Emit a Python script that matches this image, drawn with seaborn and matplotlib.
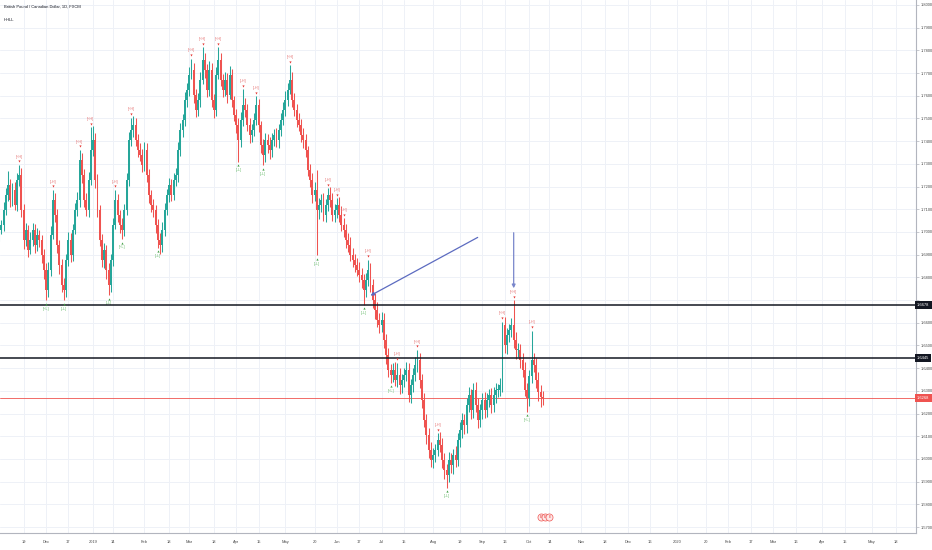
import numpy as np
import pandas as pd
import seaborn as sns
import matplotlib.pyplot as plt
import matplotlib.transforms as mtransforms

# GBPCAD daily (first bar = 2018-11-01)
start_day = "2018-11-01"
first_open = 1.6960
closes = [
    1.6987, 1.7009, 1.7031, 1.7097, 1.7163, 1.7207, 1.7141, 1.7185, 1.7119, 1.7229,
    1.7251, 1.7097, 1.6965, 1.7009, 1.6921, 1.6965, 1.7009, 1.6943, 1.6987, 1.6965,
    1.6899, 1.6833, 1.6744, 1.6833, 1.6987, 1.7141, 1.7075, 1.6943, 1.6855, 1.6767,
    1.6744, 1.6877, 1.6965, 1.6899, 1.7009, 1.7097, 1.7141, 1.7317, 1.7251, 1.7141,
    1.7097, 1.7229, 1.7361, 1.7405, 1.7229, 1.7097, 1.6965, 1.6877, 1.6921, 1.6833,
    1.6767, 1.6877, 1.7031, 1.7141, 1.7075, 1.7031, 1.7009, 1.7097, 1.7229, 1.7405,
    1.7449, 1.7471, 1.7405, 1.7361, 1.7339, 1.7295, 1.7361, 1.7251, 1.7163, 1.7119,
    1.7097, 1.7031, 1.6965, 1.6943, 1.7009, 1.7097, 1.7163, 1.7207, 1.7163, 1.7229,
    1.7251, 1.7361, 1.7449, 1.7493, 1.7581, 1.7626, 1.7692, 1.7714, 1.7604, 1.7537,
    1.7581, 1.7670, 1.7758, 1.7714, 1.7626, 1.7714, 1.7581, 1.7537, 1.7692, 1.7758,
    1.7670, 1.7626, 1.7670, 1.7604, 1.7692, 1.7581, 1.7515, 1.7471, 1.7405, 1.7493,
    1.7559, 1.7537, 1.7471, 1.7427, 1.7449, 1.7493, 1.7559, 1.7471, 1.7383, 1.7339,
    1.7405, 1.7383, 1.7361, 1.7405, 1.7427, 1.7405, 1.7449, 1.7493, 1.7537, 1.7581,
    1.7626, 1.7670, 1.7581, 1.7537, 1.7493, 1.7471, 1.7427, 1.7405, 1.7361, 1.7273,
    1.7229, 1.7163, 1.7185, 1.7097, 1.7119, 1.7141, 1.7075, 1.7119, 1.7163, 1.7141,
    1.7075, 1.7097, 1.7119, 1.7075, 1.7031, 1.7009, 1.6965, 1.6943, 1.6899, 1.6877,
    1.6855, 1.6833, 1.6811, 1.6789, 1.6744, 1.6789, 1.6833, 1.6767, 1.6700, 1.6656,
    1.6612, 1.6590, 1.6612, 1.6524, 1.6458, 1.6392, 1.6370, 1.6392, 1.6348, 1.6370,
    1.6326, 1.6348, 1.6370, 1.6392, 1.6282, 1.6326, 1.6370, 1.6414, 1.6436, 1.6348,
    1.6260, 1.6172, 1.6106, 1.6040, 1.5996, 1.6018, 1.6040, 1.6084, 1.6062, 1.5996,
    1.5951, 1.5929, 1.5996, 1.5973, 1.6018, 1.5996, 1.6084, 1.6128, 1.6172, 1.6150,
    1.6238, 1.6282, 1.6216, 1.6304, 1.6238, 1.6172, 1.6216, 1.6260, 1.6216, 1.6260,
    1.6282, 1.6238, 1.6282, 1.6304, 1.6304, 1.6326, 1.6590, 1.6502, 1.6546, 1.6568,
    1.6590, 1.6524, 1.6480, 1.6480, 1.6436, 1.6392, 1.6304, 1.6269, 1.6366, 1.6436,
    1.6414, 1.6348, 1.6295, 1.6273, 1.6268,
]
# wick lengths above / below the body, in pips
wick_up = [
    25, 30, 20, 35, 30, 60, 25, 30, 35, 30, 45, 30, 25, 30, 20, 35, 30, 25, 30, 20,
    20, 25, 30, 35, 40, 45, 30, 25, 20, 25, 30, 25, 35, 30, 25, 30, 35, 45, 30, 25,
    30, 35, 100, 60, 30, 25, 20, 25, 30, 20, 30, 25, 30, 45, 25, 20, 30, 25, 30, 35,
    55, 40, 30, 25, 30, 25, 35, 30, 25, 20, 25, 20, 25, 30, 35, 30, 25, 30, 25, 30,
    30, 35, 30, 25, 35, 30, 35, 50, 30, 25, 30, 35, 55, 30, 25, 40, 30, 25, 35, 55,
    30, 25, 35, 30, 40, 25, 20, 25, 30, 35, 70, 30, 25, 30, 25, 30, 40, 25, 20, 25,
    30, 25, 35, 30, 25, 30, 25, 30, 35, 40, 30, 65, 35, 30, 25, 30, 25, 30, 25, 20,
    25, 30, 35, 90, 30, 25, 30, 25, 30, 35, 30, 25, 30, 35, 40, 30, 25, 30, 35, 30,
    25, 30, 35, 30, 25, 30, 45, 30, 25, 30, 35, 30, 35, 30, 25, 30, 25, 30, 35, 55,
    30, 25, 30, 35, 30, 25, 30, 35, 45, 30, 25, 30, 25, 30, 35, 30, 25, 30, 35, 30,
    30, 25, 35, 30, 25, 40, 30, 35, 30, 25, 30, 35, 25, 30, 35, 30, 25, 30, 35, 30,
    25, 30, 35, 30, 25, 30, 15, 35, 30, 25, 30, 110, 35, 30, 25, 30, 35, 30, 25, 130,
    30, 30, 35, 30, 25,
]
wick_dn = [
    30, 25, 20, 25, 20, 25, 30, 25, 20, 25, 25, 30, 40, 25, 30, 20, 25, 35, 25, 30,
    35, 40, 45, 30, 25, 20, 30, 35, 40, 30, 45, 30, 25, 30, 25, 20, 25, 30, 35, 30,
    25, 30, 20, 25, 35, 30, 25, 30, 35, 40, 45, 30, 25, 20, 30, 35, 40, 25, 20, 25,
    25, 30, 25, 30, 25, 30, 25, 30, 35, 30, 30, 35, 35, 40, 30, 25, 20, 30, 25, 20,
    25, 30, 25, 30, 25, 30, 25, 20, 35, 30, 25, 30, 20, 35, 30, 25, 30, 35, 25, 20,
    25, 30, 25, 35, 20, 30, 25, 35, 95, 30, 25, 30, 25, 35, 30, 25, 20, 30, 35, 45,
    30, 35, 40, 30, 25, 30, 35, 25, 20, 25, 25, 20, 30, 25, 30, 25, 30, 35, 30, 25,
    30, 35, 25, 200, 40, 30, 25, 30, 25, 30, 25, 30, 35, 30, 25, 30, 35, 30, 25, 30,
    30, 25, 30, 35, 65, 30, 25, 30, 35, 40, 30, 35, 30, 35, 40, 30, 35, 30, 25, 30,
    40, 35, 30, 25, 30, 35, 30, 25, 30, 35, 35, 30, 40, 35, 30, 35, 30, 25, 30, 35,
    40, 55, 30, 35, 40, 30, 25, 30, 35, 40, 35, 30, 40, 35, 30, 35, 30, 40, 35, 30,
    30, 35, 30, 35, 30, 25, 30, 35, 40, 30, 30, 35, 40, 30, 35, 30, 25, 60, 35, 30,
    30, 35, 40, 45, 30,
]

# HHLL indicator pivots: (bar, tag)
pivot_highs = [(10, "HH"), (25, "LH"), (37, "HH"), (42, "HH"), (53, "LH"), (60, "HH"),
               (87, "HH"), (92, "HH"), (99, "HH"), (110, "LH"), (116, "LH"), (131, "HH"),
               (148, "LH"), (152, "LH"), (155, "LH"), (166, "LH"), (179, "LH"),
               (188, "HH"), (197, "LH"), (226, "HH"), (231, "HH"), (239, "LH")]
pivot_lows = [(22, "HL"), (30, "LL"), (50, "LL"), (56, "HL"), (72, "LL"), (108, "LL"),
              (119, "LL"), (143, "LL"), (164, "LL"), (176, "HL"), (201, "LL"), (237, "HL")]

levels = [1.6678, 1.6445]
trend_pts = [(165.9, 1.6714), (216.0, 1.6982)]
arrow_pts = [(231, 1.7009), (231, 1.6740)]
event_bars = [243, 245, 247]

tick_dates = ["2018-11-19", "2018-12-03", "2018-12-17", "2019-01-01", "2019-01-14",
              "2019-02-01", "2019-02-18", "2019-03-01", "2019-03-18", "2019-04-01",
              "2019-04-15", "2019-05-01", "2019-05-20", "2019-06-03", "2019-06-17",
              "2019-07-01", "2019-07-15", "2019-08-01", "2019-08-19", "2019-09-02",
              "2019-09-16", "2019-10-01", "2019-10-14", "2019-11-01", "2019-11-18",
              "2019-12-02", "2019-12-16", "2020-01-01", "2020-01-20", "2020-02-03",
              "2020-02-17", "2020-03-02", "2020-03-16", "2020-04-01", "2020-04-15",
              "2020-05-01", "2020-05-18"]
tick_text = ["19", "Dec", "17", "2019", "14", "Feb", "18", "Mar", "18", "Apr", "15",
             "May", "20", "Jun", "17", "Jul", "15", "Aug", "19", "Sep", "16", "Oct",
             "14", "Nov", "18", "Dec", "16", "2020", "20", "Feb", "17", "Mar", "16",
             "Apr", "15", "May", "18"]

UP, DOWN = "#26a69a", "#ef5350"
FS = 2.9

sns.set_theme(style="white")
plt.rcParams["font.family"] = ["Liberation Sans Narrow", "Liberation Sans", "DejaVu Sans"]

closes = np.array(closes)
opens = np.r_[first_open, closes[:-1]]
highs = np.maximum(opens, closes) + np.array(wick_up) / 10000
lows = np.minimum(opens, closes) - np.array(wick_dn) / 10000
n = len(closes)
x = np.arange(n)
cols = np.where(closes >= opens, UP, DOWN)

calendar = pd.bdate_range(start_day, "2020-06-30")
tick_pos = [calendar.get_loc(pd.Timestamp(d)) for d in tick_dates]

fig = plt.figure(figsize=(9.32, 5.5), dpi=100)
ax = fig.add_axes([0, 17 / 550, 916 / 932, 533 / 550])

ax.vlines(x, lows, highs, colors=cols, lw=0.75, zorder=3)
body = np.maximum(np.abs(closes - opens), 0.0003)
ax.bar(x, body, bottom=np.minimum(opens, closes), width=0.86, color=cols, lw=0, zorder=4)

ax.set_xlim(1.43, 410.8)
ax.set_ylim(1.5674, 1.8022)

yt = np.round(np.arange(1.57, 1.8001, 0.01), 2)
ax.set_yticks(yt)
ax.set_yticklabels(["" if abs(v - 1.67) < 0.001 else f"{v:.4f}" for v in yt])
ax.yaxis.tick_right()
ax.set_xticks(tick_pos)
ax.set_xticklabels(tick_text)
ax.grid(True, color="#eef1f7", lw=0.7)
ax.tick_params(axis="both", labelsize=FS, labelcolor="#4a4a4a", length=2, width=0.5,
               color="#b2b5be", pad=1.5)
ax.tick_params(axis="x", pad=3)
for s in ["top", "left"]:
    ax.spines[s].set_visible(False)
for s in ["right", "bottom"]:
    ax.spines[s].set_color("#b2b5be")
    ax.spines[s].set_linewidth(0.8)

# horizontal levels with tags on the price scale
tag_tr = mtransforms.blended_transform_factory(ax.transAxes, ax.transData)
for lv in levels:
    ax.axhline(lv, color="#131722", lw=1.1, zorder=5)
    ax.text(1.001, lv, f"{lv:.4f}", transform=tag_tr, fontsize=FS, color="white",
            va="center", ha="left", clip_on=False,
            bbox=dict(boxstyle="square,pad=0.55", fc="#131722", ec="none"))
last = closes[-1]
ax.axhline(last, color=DOWN, lw=0.6, zorder=2)
ax.text(1.001, last, f"{last:.4f}", transform=tag_tr, fontsize=FS, color="white",
        va="center", ha="left", clip_on=False,
        bbox=dict(boxstyle="square,pad=0.55", fc=DOWN, ec="none"))

# drawings
ax.annotate("", xy=trend_pts[0], xytext=trend_pts[1],
            arrowprops=dict(arrowstyle="-|>", color="#5c6bc0", lw=0.9,
                            mutation_scale=5), zorder=6)
ax.annotate("", xy=arrow_pts[1], xytext=arrow_pts[0],
            arrowprops=dict(arrowstyle="-|>", color="#7986cb", lw=0.9,
                            mutation_scale=5), zorder=6)

# pivot labels
up_off = mtransforms.offset_copy(ax.transData, fig, y=2.5, units="points")
dn_off = mtransforms.offset_copy(ax.transData, fig, y=-2.5, units="points")
for i, tag in pivot_highs:
    ax.scatter(i, highs[i], marker="v", s=2.5, color="#e53935", lw=0, zorder=6,
               transform=up_off)
    ax.annotate(f"[{tag}]", xy=(i, highs[i]), xytext=(0, 4.5), textcoords="offset points",
                ha="center", va="bottom", fontsize=2.6, color="#e57373")
for i, tag in pivot_lows:
    ax.scatter(i, lows[i], marker="^", s=2.5, color="#43a047", lw=0, zorder=6,
               transform=dn_off)
    ax.annotate(f"[{tag}]", xy=(i, lows[i]), xytext=(0, -4.5), textcoords="offset points",
                ha="center", va="top", fontsize=2.6, color="#66bb6a")

# economic event bubbles under the last bars
ev_tr = mtransforms.blended_transform_factory(ax.transData, ax.transAxes)
for b in event_bars:
    ax.scatter(b, 0.03, s=26, marker="o", fc="#fde8e8", ec="#ef5350", lw=0.5,
               transform=ev_tr, clip_on=False, zorder=7)
    ax.text(b, 0.03, "E", transform=ev_tr, fontsize=2.4, color="#e53935",
            ha="center", va="center", zorder=8)

fig.text(0.004, 0.992, "British Pound / Canadian Dollar, 1D, FXCM", fontsize=FS,
         color="#131722", va="top")
fig.text(0.004, 0.968, "HHLL", fontsize=FS, color="#131722", va="top")

fig.savefig("out.png", dpi=100)
